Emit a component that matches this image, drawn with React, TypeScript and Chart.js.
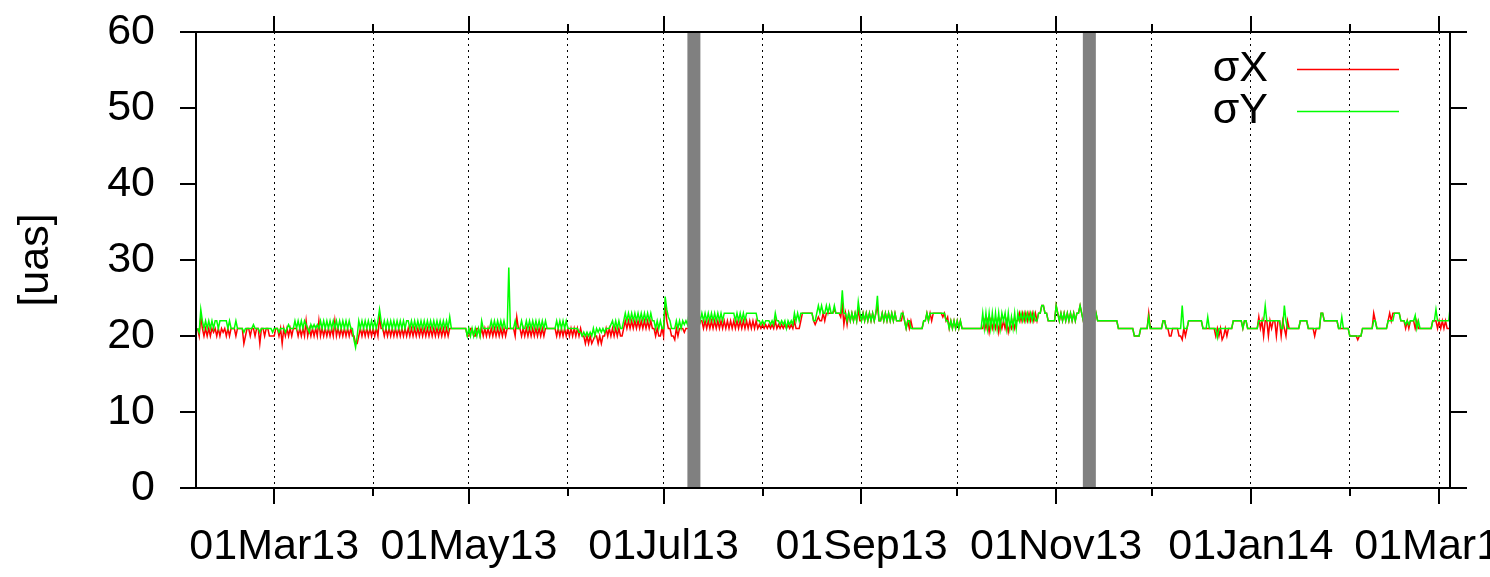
import React, { useEffect, useRef } from "react";
import { Chart, registerables } from "chart.js";

Chart.register(...registerables);

// x axis: days counted from 01 Jan 2013 (= day 0)
const FIRST_DAY = 35; // day of the first sample
const SAMPLE_STEP = 0.5; // days between samples
const X_MIN = 34.5;
const X_MAX = 427.4;

const Y_MIN = 0;
const Y_MAX = 60;
const Y_STEP = 10;

const MONTH_TICK_DAYS = [59, 90, 120, 151, 181, 212, 243, 273, 304, 334, 365, 396, 424];
const MONTH_TICK_LABELS = ["01Mar13", "", "01May13", "", "01Jul13", "", "01Sep13", "", "01Nov13", "", "01Jan14", "", "01Mar14"];

const GAP_DAYS = [190.5, 314.4];

const SERIES_LABELS = ["σX", "σY"];
const SERIES_COLORS = ["#ff0000", "#00ff00"];
const GAP_COLOR = "#808080";

const SIGMA_X = [
  21, 20, 22.5, 21, 20, 21, 20, 21, 20, 21, 20.5, 21, 20, 21, 20, 21, 20.5, 21, 20, 21,
  20, 21, 21, 21, 20, 21, 21, 21, 21, 19, 20, 21, 21, 20, 21, 21, 20, 21, 21, 19,
  21, 21, 20, 21, 21, 20, 20, 20, 20, 21, 21, 20, 21, 19, 21, 20, 21, 20, 21, 20,
  21, 21, 21, 20, 21, 20, 21, 20, 22, 20, 21, 20, 21, 20, 21, 20, 22, 20, 21, 20,
  21, 20, 21, 20, 21, 20, 22, 20, 21, 20, 21, 20, 21, 20, 21, 20, 21, 20, 20, 19,
  19, 20, 21, 20, 21, 20, 21, 20, 21, 20, 21, 20, 21, 20, 22.5, 21, 21, 20, 21, 20,
  21, 20, 21, 20, 21, 20, 21, 20, 21, 20, 21, 20, 21, 20, 21, 20, 21, 20, 21, 20,
  21, 20, 21, 20, 21, 20, 21, 20, 21, 20, 21, 20, 21, 20, 21, 20, 21, 20, 21, 21,
  21, 21, 21, 21, 21, 21, 21, 21, 21, 20, 20, 21, 21, 20, 20, 21, 21, 20, 21, 20,
  21, 20, 21, 20, 21, 20, 21, 20, 21, 20, 21, 20, 21, 20, 21, 21, 21, 21, 21, 20,
  22.5, 21, 21, 20, 21, 20, 21, 20, 21, 20, 21, 20, 21, 20, 21, 20, 21, 20, 21, 21,
  21, 21, 21, 21, 21, 20, 21, 20, 21, 20, 21, 20, 21, 20, 21, 20, 21, 20, 21, 20,
  21, 20, 20, 19, 20, 19, 20, 19, 19.5, 20, 20, 19, 20, 19, 20, 20, 21, 20, 21, 20,
  21, 20, 21, 20, 21, 20, 20, 21, 22, 21, 22, 21, 22, 21, 22, 21, 22, 21, 22, 21,
  22, 21, 22, 21, 22, 21, 21, 20, 21, 20, 20, 21, 20, 24.5, 22, 21, 21, 20, 20, 19.5,
  21, 20, 21, 21, 21, 20.5, 21, 21, 21, 22, 21, 22, 21, 22, 21, 22, 22, 21, 22, 21,
  22, 21, 22, 21, 22, 21, 22, 21, 22, 21, 22, 21, 22, 21, 22, 21, 22, 21, 22, 21,
  22, 21, 22, 21, 22, 21, 22, 21, 22, 21, 22, 21, 21.5, 21, 21.5, 21, 21.5, 21, 21.5, 21,
  21.5, 21, 22, 21, 21.5, 21, 21.5, 21, 21.5, 21, 21.5, 21, 21.5, 21, 22, 21, 21, 21, 22, 23,
  23, 23, 23, 23, 23, 23, 22, 21.5, 22, 22.5, 22, 22, 23, 22, 23, 23, 23, 23, 23, 23.5,
  23, 23, 23, 22.5, 24, 21.5, 23, 21.5, 23, 22, 23, 22, 23, 22, 23.5, 22, 22, 23, 22, 23,
  22, 23, 22, 23, 22, 23, 24, 22, 22, 23, 22, 23, 22, 23, 22, 23, 22, 23, 22, 22,
  22, 22, 23, 22, 21, 22, 21, 22, 21, 21, 21, 21, 21, 21, 21, 22, 22, 23, 22, 23,
  22, 23, 23, 23, 23, 23, 23, 22.5, 23, 22, 22.5, 21, 22, 21, 22, 21, 22, 21, 22, 21,
  21, 21, 21, 21, 21, 21, 21, 21, 21, 21, 21, 21, 21, 22, 21, 22, 20.5, 22, 21, 22,
  21, 22, 20.5, 22, 21, 22, 21, 22, 20.5, 21.5, 21, 22, 21, 22, 22, 23, 22, 23, 22, 23,
  22, 23, 22, 23, 22, 23, 22, 23, 23, 24, 24, 23, 23, 22, 22, 22, 22, 22, 24, 23,
  22, 23, 22, 23, 22, 23, 22, 23, 22, 23, 22, 23, 23, 24, 23, 22, 23, 22, 23, 22,
  22, 23, 22, 23, 22, 22, 22, 22, 22, 22, 22, 22, 22, 22, 22, 22, 22, 21, 21, 21,
  21, 21, 21, 21, 21, 21, 21, 20, 20, 20, 20, 21, 21, 21, 21, 21, 23, 21, 21, 21,
  21, 21, 21, 21, 21, 22, 22, 21, 21, 20, 20, 21, 21, 21, 21, 20, 20, 19.5, 21, 20,
  21, 22, 22, 22, 22, 22, 22, 22, 22, 22, 21, 21, 21, 21, 21, 21, 21, 21, 20, 21,
  20, 21, 19.5, 20, 21, 20, 21, 21, 21, 22, 22, 22, 22, 22, 22, 21, 22, 22, 21, 21,
  21, 21, 21, 21, 21, 22.5, 21, 22, 20, 22, 22, 20, 22, 21, 22, 22, 20, 22, 22, 20,
  22, 21, 20, 22, 21, 21, 21, 21, 21, 21, 21, 22, 22, 22, 22, 22, 21, 21, 21, 21,
  20, 21, 21, 21, 23, 23, 22, 22, 22, 22, 22, 22, 22, 22, 22, 21, 21, 21, 21, 21,
  21, 21, 20, 20, 20, 20, 20, 19.5, 20, 20, 21, 21, 21, 21, 21, 21, 21, 23, 22, 21,
  21, 21, 21, 21, 21, 21, 22, 23, 22, 23, 23, 23, 23, 23, 22, 22, 22, 21, 22, 21,
  22, 22, 22, 21, 22, 21, 21, 21, 21, 21, 21, 21, 21, 21, 22, 22, 22, 21, 22, 21,
  22, 21, 22, 21, 21, 21,
];

const SIGMA_Y = [
  21, 20.5, 23.5, 22, 21, 22, 21, 22, 21, 22, 21, 22, 22, 21, 22, 22, 22, 22, 22, 21,
  22, 21, 21, 21, 22, 21, 21, 21, 21, 20.5, 21, 21, 21, 21, 21, 21.5, 21, 21, 21, 20.5,
  21, 21, 21, 21, 21, 21, 21, 20.5, 21, 21, 21, 20.5, 21, 21, 21, 20.5, 21, 21.5, 21, 21,
  21, 22, 21, 22, 21, 22, 21, 22, 21.5, 21, 20.5, 21.5, 21, 21.5, 21, 21.5, 21, 22, 21, 22,
  21, 22, 21, 22, 21, 22, 21, 22, 21, 22, 21, 22, 21, 22, 21, 22, 21, 21, 19.5, 18.5,
  20, 22, 21, 22, 21, 22, 21, 22, 21, 22, 21, 22, 21, 22, 23.5, 22, 21, 22, 21, 22,
  21, 22, 21, 22, 21, 22, 21, 22, 21, 22, 21, 22, 22, 21, 22, 21, 22, 21, 22, 21,
  22, 21, 22, 21, 22, 21, 22, 21, 22, 21, 22, 21, 22, 21, 22, 21, 22, 21, 22.5, 21,
  21, 21, 21, 21, 21, 21, 21, 21, 21, 20, 21, 20, 21, 20, 21, 20, 21, 20, 22, 21,
  21, 21, 21, 21, 22, 21, 22, 21, 22, 21, 22, 21, 22, 21, 21, 29, 21, 21, 21, 22,
  21, 21, 21, 22, 21, 21, 22, 21, 22, 21, 22, 21, 22, 21, 22, 21, 22, 21, 22, 21,
  21, 21, 21, 21, 21, 22, 21, 22, 21, 22, 21, 22, 21, 21, 21, 21, 21, 21, 21, 20.5,
  20.5, 20, 20.5, 20, 20.5, 20, 20.5, 20, 21, 20, 21, 20.5, 21, 20.5, 21, 20.5, 21, 21, 21, 21.5,
  22, 21, 22, 21, 22, 21, 21, 22, 23, 22, 23, 22, 23, 22, 23, 22, 23, 22, 23, 22,
  23, 22, 23, 22, 23, 22, 22, 21, 22, 21, 22, 21, 21, 25.2, 23.5, 22.5, 22, 21, 21, 21,
  22, 21, 22, 21, 22, 21.5, 22, 21.5, 23, 22, 23, 22, 23, 22, 23, 22, 23, 22, 23, 22,
  23, 22, 23, 22, 23, 22, 23, 22, 23, 22, 23, 23, 23, 23, 23, 23, 23, 22, 23, 22,
  23, 22, 23, 22, 23, 23, 23, 23, 23, 23, 23, 22, 22, 21.5, 22, 21.5, 22, 22, 22, 21.5,
  22, 21.5, 23, 22, 22, 21.5, 22, 21.5, 22, 21, 22, 21.5, 22, 21.5, 23, 22, 23, 22, 23, 23,
  23, 23, 23, 23, 23, 23, 22, 22, 23, 24, 23, 24, 23, 23, 24, 23, 24, 23, 23, 24,
  23, 23, 23, 23, 26, 23, 23, 22, 23, 22, 23, 22, 23, 22, 24.5, 23, 22, 23, 22, 23,
  22, 23, 22, 23, 22, 23, 25.3, 22, 22, 23, 22, 23, 22, 23, 22, 23, 22, 23, 22, 22,
  22, 23, 23, 22, 21, 22, 22, 21, 21, 21, 21, 21, 21, 21, 21, 22, 22, 23, 22, 23,
  23, 23, 23, 23, 23, 23, 23, 23, 23, 22, 22, 21, 22, 21, 22, 21, 22, 21, 22, 21,
  21, 21, 21, 21, 21, 21, 21, 21, 21, 21, 21, 21, 23, 21, 23, 21, 23, 21, 23, 21,
  23, 21, 23, 21, 23, 22, 23, 21, 23, 21, 22.5, 21, 23, 21, 23, 22, 23, 22, 23, 22,
  23, 22, 23, 22, 23, 22, 22, 23, 23, 24, 24, 23, 23, 22, 22, 22, 22, 22, 24, 23,
  22, 23, 22, 23, 22, 23, 22, 23, 22, 23, 22, 23, 23, 24, 23, 22, 23, 22, 23, 22,
  22, 23, 22, 23, 22, 22, 22, 22, 22, 22, 22, 22, 22, 22, 22, 22, 22, 21, 21, 21,
  21, 21, 21, 21, 21, 21, 21, 20, 20, 20, 20, 21, 21, 21, 21, 21, 22.5, 21, 21, 21,
  21, 21, 21, 21, 21, 22, 22, 21, 21, 21, 21, 21, 21, 21, 21, 21, 21, 24, 21, 21,
  21, 22, 22, 22, 22, 22, 22, 22, 22, 22, 21, 21, 21, 22.5, 21, 21, 21, 21, 21, 19.8,
  21, 21, 21, 21, 21, 21, 21, 21, 21, 22, 22, 22, 22, 22, 22, 21, 22, 22, 21, 21,
  21, 21, 21, 21, 21, 22, 22, 22, 22, 24, 22, 22, 22, 22, 22, 22, 22, 22, 22, 21,
  21, 24, 22, 21, 21, 21, 21, 21, 21, 21, 21, 22, 22, 22, 22, 22, 21, 21, 21, 21,
  21, 21, 21, 21, 23, 23, 22, 22, 22, 22, 22, 22, 22, 22, 22, 21, 21, 22.5, 21, 21,
  21, 21, 20, 20, 20, 20, 20, 20, 20, 20, 21, 21, 21, 21, 21, 21, 21, 22, 22, 21,
  21, 21, 21, 21, 21, 21, 22, 22, 22, 22, 23, 23, 23, 23, 22, 22, 22, 21.5, 22, 21.5,
  22, 22, 22, 22.7, 21, 22, 21, 21, 21, 21, 21, 21, 21, 21, 22, 22, 23.5, 22, 22, 22,
  22, 22, 22, 22, 22, 24,
];

const FONT_FAMILY = "'Liberation Sans', Arial, Helvetica, sans-serif";
const FONT_SIZE = 43;

export default function App() {
  const canvasRef = useRef<HTMLCanvasElement | null>(null);

  useEffect(() => {
    document.body.style.margin = "0";
    const canvas = canvasRef.current;
    if (!canvas) return;

    const toPoints = (values: number[]) =>
      values.map((y, i) => ({ x: FIRST_DAY + i * SAMPLE_STEP, y }));

    const gapDatasets = GAP_DAYS.map((d) => ({
      type: "line" as const,
      label: "gap",
      data: [
        { x: d, y: Y_MIN },
        { x: d, y: Y_MAX },
      ],
      borderColor: GAP_COLOR,
      borderWidth: 13,
      borderCapStyle: "butt" as const,
      pointRadius: 0,
      clip: 0,
      order: 0,
    }));

    const framePlugin = {
      id: "gnuplotFrame",
      afterDatasetsDraw(chart: any) {
        const { ctx, chartArea, scales } = chart;
        const { left, right, top, bottom } = chartArea;
        const xs = scales.x;
        const ys = scales.y;
        ctx.save();
        ctx.setLineDash([]);
        ctx.strokeStyle = "#000";
        ctx.lineWidth = 2;
        ctx.beginPath();
        xs.ticks.forEach((t: any) => {
          const idx = MONTH_TICK_DAYS.indexOf(t.value);
          const major = idx >= 0 && MONTH_TICK_LABELS[idx] !== "";
          const len = major ? 16 : 8;
          const px = Math.round(xs.getPixelForValue(t.value));
          ctx.moveTo(px, bottom);
          ctx.lineTo(px, bottom + len);
          ctx.moveTo(px, top);
          ctx.lineTo(px, top - len);
        });
        ys.ticks.forEach((t: any) => {
          const py = Math.round(ys.getPixelForValue(t.value));
          ctx.moveTo(left - 16, py);
          ctx.lineTo(left, py);
          ctx.moveTo(right, py);
          ctx.lineTo(right + 17, py);
        });
        ctx.stroke();
        ctx.strokeRect(left, top, right - left, bottom - top);
        ctx.restore();
      },
      afterDraw(chart: any) {
        const { ctx } = chart;
        ctx.save();
        ctx.font = `${FONT_SIZE}px ${FONT_FAMILY}`;
        ctx.textAlign = "right";
        ctx.textBaseline = "middle";
        SERIES_LABELS.forEach((label, row) => {
          const ds = chart.data.datasets.find((d: any) => d.label === label);
          if (!ds) return;
          const y = 69 + row * 42;
          ctx.fillStyle = "#000";
          ctx.fillText(ds.label, 1268, y);
          ctx.strokeStyle = ds.borderColor;
          ctx.lineWidth = 1.5;
          ctx.beginPath();
          ctx.moveTo(1297, y + 0.5);
          ctx.lineTo(1399, y + 0.5);
          ctx.stroke();
        });
        ctx.restore();
      },
    };

    const chart = new Chart(canvas, {
      type: "line",
      data: {
        datasets: [
          ...gapDatasets,
          {
            label: SERIES_LABELS[1],
            data: toPoints(SIGMA_Y),
            borderColor: SERIES_COLORS[1],
            borderWidth: 1.5,
            pointRadius: 0,
            tension: 0,
            order: 1,
          },
          {
            label: SERIES_LABELS[0],
            data: toPoints(SIGMA_X),
            borderColor: SERIES_COLORS[0],
            borderWidth: 1.5,
            pointRadius: 0,
            tension: 0,
            order: 2,
          },
        ],
      },
      options: {
        animation: false,
        responsive: false,
        devicePixelRatio: 1,
        events: [],
        layout: { padding: { top: 32, right: 40, left: 0, bottom: 0 }, autoPadding: false },
        plugins: {
          legend: { display: false },
          tooltip: { enabled: false },
          title: { display: false },
        },
        scales: {
          x: {
            type: "linear",
            position: "bottom",
            min: X_MIN,
            max: X_MAX,
            afterBuildTicks: (scale: any) => {
              scale.ticks = MONTH_TICK_DAYS.map((v) => ({ value: v }));
            },
            afterFit: (scale: any) => {
              scale.paddingLeft = 0;
              scale.paddingRight = 0;
              scale.height = 89;
            },
            ticks: {
              autoSkip: false,
              maxRotation: 0,
              minRotation: 0,
              padding: 33,
              color: "#000",
              font: { family: FONT_FAMILY, size: FONT_SIZE },
              callback: (value: any) => {
                const idx = MONTH_TICK_DAYS.indexOf(Number(value));
                return idx >= 0 ? MONTH_TICK_LABELS[idx] : "";
              },
            },
            grid: {
              display: true,
              drawOnChartArea: true,
              drawTicks: false,
              color: "#000",
              lineWidth: 1,
            },
            border: { display: false, dash: [2, 4] },
          },
          y: {
            type: "linear",
            position: "left",
            min: Y_MIN,
            max: Y_MAX,
            afterFit: (scale: any) => {
              scale.paddingTop = 0;
              scale.paddingBottom = 0;
              scale.width = 196;
            },
            ticks: {
              stepSize: Y_STEP,
              padding: 41,
              color: "#000",
              font: { family: FONT_FAMILY, size: FONT_SIZE },
            },
            grid: { display: false, drawTicks: false },
            border: { display: false },
            title: {
              display: true,
              text: "[uas]",
              color: "#000",
              font: { family: FONT_FAMILY, size: FONT_SIZE },
              padding: { top: 10, bottom: 0 },
            },
          },
        },
      },
      plugins: [framePlugin],
    } as any);

    return () => chart.destroy();
  }, []);

  return (
    <div style={{ position: "fixed", left: 0, top: 0, width: 1490, height: 577, background: "#fff" }}>
      <canvas ref={canvasRef} width={1490} height={577} style={{ display: "block" }} />
    </div>
  );
}
